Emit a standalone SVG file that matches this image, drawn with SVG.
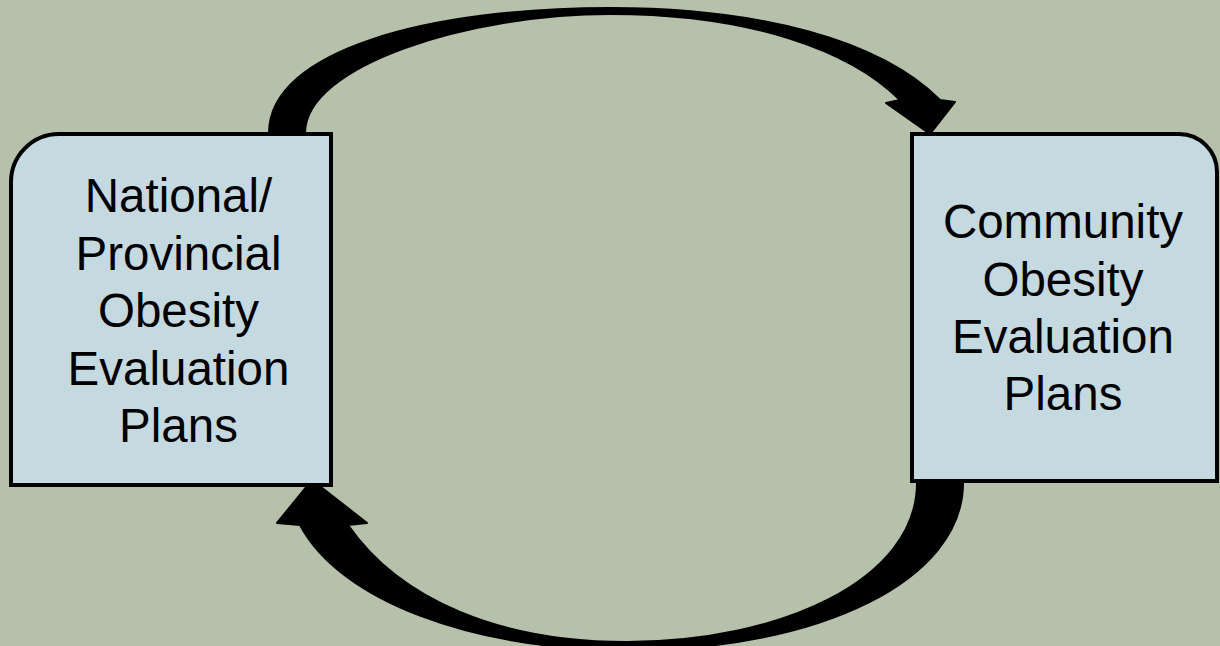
<svg xmlns="http://www.w3.org/2000/svg" width="1220" height="646" viewBox="0 0 1220 646">
  <style>
    .box { fill: #C5D9E1; stroke: #000000; stroke-width: 4; stroke-linejoin: miter; }
    .arrow { fill: #000000; stroke: #000000; stroke-width: 2; stroke-linejoin: round; }
    .label { font-family: "Liberation Sans", Arial, sans-serif; font-size: 47.5px; fill: #000000; text-anchor: middle; }
  </style>
  <rect x="0" y="0" width="1220" height="646" fill="#B5C1AB"/>
  <g id="connectors">
    <path class="arrow" d="M269,133 C269,50 430,8 610,8 C760,8 880,40 940,100 L955,102 L930,134 L886,103 L900,100 C850,50 750,14 610,14 C470,14 305,65 305,133 Z"/>
    <path class="arrow" d="M963,483 C963,580 820,650 630,650 C470,650 340,600 300,525 L277,523 L312,480 L367,523 L348,525 C400,600 500,642 627,642 C780,642 917,580 917,483 Z"/>
  </g>
  <g id="node-national">
    <path class="box" d="M11,182 A48,48 0 0 1 59,134 L331,134 L331,485 L11,485 Z"/>
    <text class="label" x="178.5" y="212">National/</text>
    <text class="label" x="178.5" y="269.5">Provincial</text>
    <text class="label" x="178.5" y="327">Obesity</text>
    <text class="label" x="178.5" y="384.5">Evaluation</text>
    <text class="label" x="178.5" y="442">Plans</text>
  </g>
  <g id="node-community">
    <path class="box" d="M912,134 L1179,134 A38,38 0 0 1 1217,172 L1217,481 L912,481 Z"/>
    <text class="label" x="1063" y="238">Community</text>
    <text class="label" x="1063" y="295.5">Obesity</text>
    <text class="label" x="1063" y="353">Evaluation</text>
    <text class="label" x="1063" y="410">Plans</text>
  </g>
</svg>
